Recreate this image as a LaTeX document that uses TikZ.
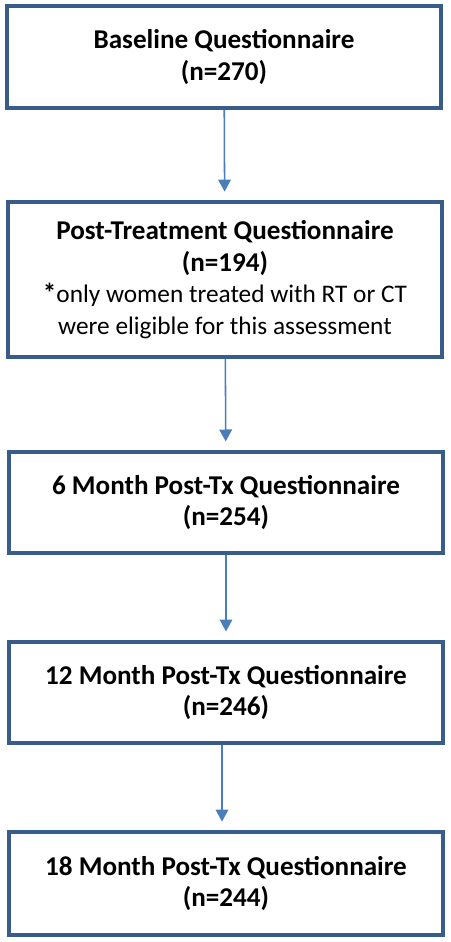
\documentclass[tikz,border=0pt]{standalone}
\usepackage{fontspec}
\setmainfont{Carlito}
\usetikzlibrary{arrows.meta}
\definecolor{boxline}{HTML}{385D8A}
\definecolor{arrowline}{HTML}{4A7EBB}
\newcommand{\plainline}{\fontsize{18}{22.4}\selectfont\mdseries}
\begin{document}
\begin{tikzpicture}[
    qbox/.style={draw=boxline,line width=2.5pt,fill=white,minimum width=10.85cm,align=center,font=\fontsize{19.3}{22.4}\selectfont\bfseries},
    flow/.style={draw=arrowline,line width=1.1pt,-{Triangle[length=8.5pt,width=9pt]},shorten >=0.22cm}]
        \useasboundingbox[fill=white](0,0) rectangle (11.25,-23.55);
        \node[qbox,minimum height=2.55cm] (base) at(5.6,-1.425) {Baseline Questionnaire\\(n=270)};
        \node[qbox,minimum height=3.875cm] (post) at(5.625,-6.99) {Post-Treatment Questionnaire\\(n=194)\\*\plainline only women treated with RT or CT\\\plainline were eligible for this assessment};
        \node[qbox,minimum height=2.525cm] (six) at(5.65,-12.5625) {6 Month Post-Tx Questionnaire\\(n=254)};
        \node[qbox,minimum height=2.525cm] (twelve) at(5.65,-17.3125) {12 Month Post-Tx Questionnaire\\(n=246)};
        \node[qbox,minimum height=2.575cm] (eighteen) at(5.65,-22.09) {18 Month Post-Tx Questionnaire\\(n=244)};
        \draw[flow](base)--(post);
        \draw[flow](post)--(six);
        \draw[flow](six)--(twelve);
        \draw[flow]([xshift=-0.1cm]twelve.south)--([xshift=-0.1cm]eighteen.north);
      \end{tikzpicture}
\end{document}
